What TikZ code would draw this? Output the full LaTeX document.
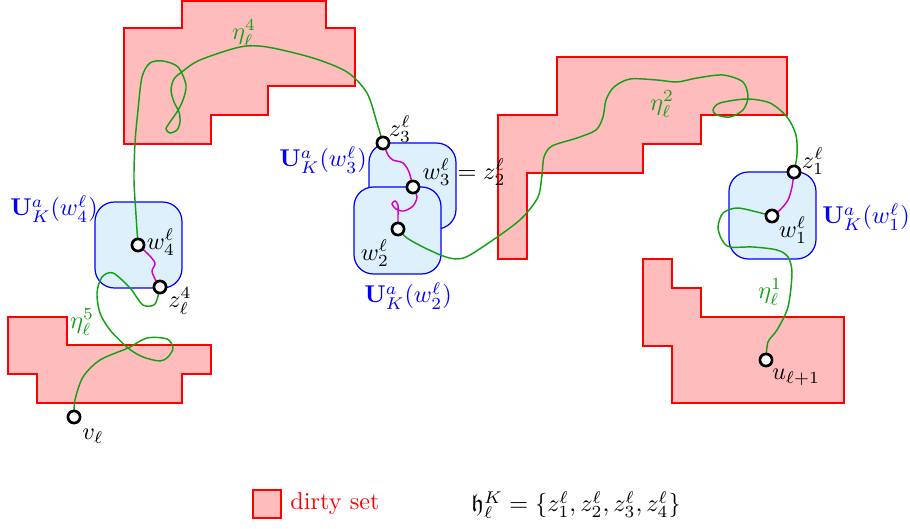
\documentclass[tikz,border=0pt]{standalone}
\usepackage{amssymb}
\usetikzlibrary{backgrounds}
\definecolor{dirtyred}{RGB}{255,188,188}
\definecolor{nbhdblue}{RGB}{222,240,252}
\definecolor{etagreen}{RGB}{20,160,20}
\definecolor{locmag}{RGB}{210,0,200}
\tikzset{
  dirty/.style={draw=red, fill=dirtyred, line width=0.5pt},
  nbhd/.style={draw=blue, fill=nbhdblue, line width=0.5pt, rounded corners=8pt},
  vtx/.style={circle, draw=black, line width=1.1pt, fill=white, inner sep=0pt, minimum size=5pt},
  eta/.style={etagreen, line width=0.6pt},
  loc/.style={locmag, line width=0.6pt},
}
\begin{document}
\begin{tikzpicture}[x=0.4115pt, y=-0.4115pt]
  \useasboundingbox (0,0) rectangle (910,529);
  % points
  \node[vtx] (v) at (74,417) {};
  \node[vtx] (w4) at (138,245) {};
  \node[vtx] (z4) at (160,287) {};
  \node[vtx] (z3) at (383,143) {};
  \node[vtx] (w3) at (413,187) {};
  \node[vtx] (w2) at (398,229) {};
  \node[vtx] (z1) at (794,172) {};
  \node[vtx] (w1) at (772,216) {};
  \node[vtx] (u) at (766,360) {};
  \begin{scope}[on background layer]
    % dirty sets
    \draw[dirty] (124,28) -- (182,28) -- (182,1) -- (326,1) -- (326,28) -- (355,28) -- (355,86)
      -- (268,86) -- (268,115) -- (211,115) -- (211,144) -- (124,144) -- cycle;
    \draw[dirty] (498,115) -- (557,115) -- (557,57) -- (787,57) -- (787,115) -- (701,115) -- (701,144)
      -- (643,144) -- (643,173) -- (527,173) -- (527,259) -- (498,259) -- cycle;
    \draw[dirty] (643,259) -- (672,259) -- (672,288) -- (701,288) -- (701,317) -- (844,317)
      -- (844,403) -- (672,403) -- (672,346) -- (643,346) -- cycle;
    \draw[dirty] (8,317) -- (67,317) -- (67,345) -- (211,345) -- (211,374) -- (182,374)
      -- (182,403) -- (37,403) -- (37,374) -- (8,374) -- cycle;
    % neighbourhoods
    \draw[nbhd] (95,202) rectangle (182,288);
    \draw[nbhd] (369,143) rectangle (456,229);
    \draw[nbhd] (354,187) rectangle (441,274);
    \draw[nbhd] (729,172) rectangle (816,259);
    % paths
    \draw[eta] plot[smooth] coordinates {(v) (75,400) (83,377) (100,360) (128,348) (147,338)
      (167,339) (173,348) (168,357) (160,361) (143,357) (128,348) (110,330) (100,313) (97,293)
      (102,277) (113,273) (130,288) (143,305) (155,304) (z4)};
    \draw[loc] plot[smooth] coordinates {(w4) (148,254) (155,263) (152,271) (155,279) (z4)};
    \draw[eta] plot[smooth] coordinates {(w4) (136,215) (134,180) (135,143) (138,110) (142,77)
      (150,63) (163,61) (178,67) (186,85) (183,100) (177,112) (170,122) (166,129) (170,133)
      (177,130) (180,122) (179,112) (174,102) (171,90) (174,79) (183,71) (200,60) (240,47)
      (267,47) (313,58) (347,72) (367,93) (377,123) (z3)};
    \draw[loc] plot[smooth] coordinates {(z3) (388,155) (393,160) (403,163) (409,172) (w3)};
    \draw[loc] plot[smooth] coordinates {(w3) (417,197) (413,206) (404,211) (396,209) (392,204)
      (395,201) (398,205) (398,216) (w2)};
    \draw[eta] plot[smooth] coordinates {(w2) (407,238) (423,247) (443,256) (457,259) (470,255)
      (503,233) (523,217) (538,197) (542,175) (544,157) (552,146) (577,138) (596,130) (603,117)
      (606,100) (614,87) (630,79) (657,80) (677,82) (697,78) (723,75) (743,82) (748,97) (743,110)
      (730,117) (717,115) (713,110) (720,103) (747,99) (770,103) (787,117) (796,135) (797,155) (z1)};
    \draw[loc] plot[smooth] coordinates {(z1) (792,187) (788,200) (780,210) (w1)};
    \draw[eta] plot[smooth] coordinates {(w1) (757,212) (737,208) (723,213) (718,227) (722,240)
      (730,247) (753,247) (777,250) (788,257) (792,273) (788,307) (777,330) (768,342) (u)};
  \end{scope}
  % labels
  \node at (161,242) {$w_4^\ell$};
  \node at (180,301) {$z_\ell^4$};
  \node at (93,436) {$v_\ell$};
  \node[text=blue] at (54,209) {$\mathbf{U}_K^a(w_4^\ell)$};
  \node[text=etagreen] at (82,322) {$\eta_\ell^5$};
  \node at (400,129) {$z_3^\ell$};
  \node[text=blue] at (323,160) {$\mathbf{U}_K^a(w_3^\ell)$};
  \node at (464,172) {$w_3^\ell = z_2^\ell$};
  \node at (375,253) {$w_2^\ell$};
  \node[text=blue] at (408,296) {$\mathbf{U}_K^a(w_2^\ell)$};
  \node at (813,161) {$z_1^\ell$};
  \node at (793,230) {$w_1^\ell$};
  \node[text=blue] at (866,217) {$\mathbf{U}_K^a(w_1^\ell)$};
  \node[text=etagreen] at (770,292) {$\eta_\ell^1$};
  \node at (796,377) {$u_{\ell+1}$};
  \node[text=etagreen] at (244,33) {$\eta_\ell^4$};
  \node[text=etagreen] at (662,104) {$\eta_\ell^2$};
  % legend
  \node[dirty, minimum size=11.6pt, inner sep=0pt] (leg) at (267,504) {};
  \node[right, text=red] (legtext) at (leg.east) {dirty set};
  \node (hset) at (576,505) {$\mathfrak{h}_\ell^K = \{z_1^\ell, z_2^\ell, z_3^\ell, z_4^\ell\}$};
\end{tikzpicture}
\end{document}
